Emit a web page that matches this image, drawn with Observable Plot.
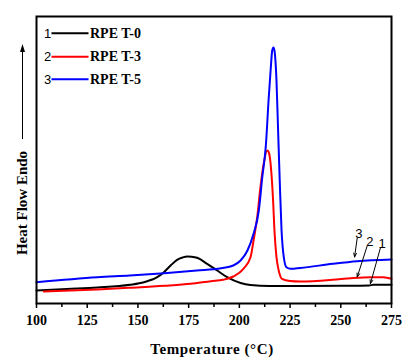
<!DOCTYPE html>
<html><head><meta charset="utf-8">
<script src="https://cdn.jsdelivr.net/npm/d3@7"></script>
<script src="https://cdn.jsdelivr.net/npm/@observablehq/plot@0.6"></script>
<style>body{margin:0;background:#fff}</style>
</head><body><div id="chart"></div>
<script>
// Series: temperature (°C) and heat flow (arbitrary units, endo up)
const seriesNames = ["RPE T-0", "RPE T-3", "RPE T-5"];
const seriesNums = ["1", "2", "3"];
const seriesColors = ["#000000", "#ff0000", "#0000ff"];

const t0 = [100,115,130,146,153,159.5,162.8,166.1,169.3,172,174.3,176.5,179.2,184.1,189.1,194,200.6,205.5,215,230,250,264,266,275];
const v0 = [13,14.5,16,18.7,21.3,26.3,31.3,38,43.7,46,47,46.8,45.7,39.7,33,26.3,20.5,18.5,17.5,17.5,17.7,18,18.7,18.7];

const t3 = [103.6,130,146,163,176,186,192,197,202,205.5,207,208.8,210.4,212,213.7,214.5,215.7,216.7,217.3,218.3,219.4,221,225,230,246,255,265,271,275];
const v3 = [12,14,15.7,17.7,19.7,22.3,23.7,27,34.7,46.3,63,86.3,116.3,139.7,153,151.3,133,100,73,46.3,33,24.7,22.5,22,23.7,25.3,26.3,26.3,24.7];

const t5 = [100,130,146,163,179,191,197,200.6,204,207,209.6,211.3,213,214.5,215.4,216.2,216.8,217.3,218.3,219.1,219.9,220.8,221.9,223.2,225.2,230,246,258,275];
const v5 = [21.3,26.3,28,30.3,33,35.3,38,43,53,69.7,93,126.3,156.3,206.3,233,253,256,253,223,173,123,73,46.3,36.3,34.7,35.5,39.7,42.3,44];

const xTicks = [100,125,150,175,200,225,250,275];
const xMinor = [112.5,137.5,162.5,187.5,212.5,237.5,262.5];

// Annotation labels (number) with arrow start and tip in data coordinates
const annNums = ["3", "2", "1"];
const annLabelT = [258.9, 264.3, 270.4];
const annLabelV = [69.7, 61.3, 59.7];
const annFromT = [258.1, 263.0, 269.6];
const annFromV = [65.5, 57.5, 56];
const annToT = [256.8, 258.1, 264.6];
const annToV = [46.5, 26.5, 19.8];

const rows = [];
[[t0,v0],[t3,v3],[t5,v5]].forEach(([ts,vs],i)=>ts.forEach((t,j)=>rows.push({t, v: vs[j], s: seriesNames[i]})));
const ann = annNums.map((n,i)=>({n, lt: annLabelT[i], lv: annLabelV[i], ft: annFromT[i], fv: annFromV[i], tt: annToT[i], tv: annToV[i]}));

const serif = "'Liberation Serif', 'Times New Roman', serif";
const sans = "'Liberation Sans', Arial, sans-serif";

const plot = Plot.plot({
  width: 413, height: 363,
  marginLeft: 36, marginRight: 22, marginTop: 16, marginBottom: 60,
  style: {fontFamily: serif, background: "#fff"},
  x: {domain: [100, 275]},
  y: {domain: [0, 287], axis: null},
  color: {domain: seriesNames, range: seriesColors},
  marks: [
    Plot.line(rows, {x: "t", y: "v", z: "s", stroke: "s", strokeWidth: 2, curve: "monotone-x"}),
    Plot.arrow(ann, {x1: "ft", y1: "fv", x2: "tt", y2: "tv", stroke: "black", strokeWidth: 1, headLength: 6, headAngle: 40}),
    Plot.text(ann, {x: "lt", y: "lv", text: "n", fontSize: 13, fontFamily: sans, fill: "black"}),
    Plot.axisX({ticks: xMinor, tickSize: 4, text: null, label: null, strokeWidth: 1.5}),
    Plot.axisX({ticks: xTicks, tickSize: 5, tickPadding: 7, fontSize: 14, fontWeight: "bold", fontFamily: serif, fill: "black", label: null, strokeWidth: 1.5, tickFormat: d => String(d)}),
    Plot.frame({stroke: "black", strokeWidth: 2})
  ]
});

const svg = d3.select(plot);
// Legend
const legY = [33.3, 56.7, 79.3];
seriesNames.forEach((name, i) => {
  const g = svg.append("g");
  g.append("text").attr("x", 47.5).attr("y", legY[i]).attr("text-anchor", "middle").attr("dominant-baseline", "central")
    .attr("font-family", sans).attr("font-size", 13).attr("fill", "black").text(seriesNums[i]);
  g.append("line").attr("x1", 51.5).attr("x2", 88.5).attr("y1", legY[i]).attr("y2", legY[i])
    .attr("stroke", seriesColors[i]).attr("stroke-width", 2);
  g.append("text").attr("x", 90).attr("y", legY[i]).attr("text-anchor", "start").attr("dominant-baseline", "central")
    .attr("font-family", serif).attr("font-weight", "bold").attr("font-size", 14).attr("fill", "black").text(name);
});
// X title
svg.append("text").attr("x", 212).attr("y", 349).attr("text-anchor", "middle").attr("dominant-baseline", "central")
  .attr("font-family", serif).attr("font-weight", "bold").attr("font-size", 15).attr("letter-spacing", "0.6px")
  .attr("fill", "black").text("Temperature (°C)");
// Y title with arrow
svg.append("text").attr("transform", "translate(22,203) rotate(-90)").attr("text-anchor", "middle").attr("dominant-baseline", "central")
  .attr("font-family", serif).attr("font-weight", "bold").attr("font-size", 15).attr("fill", "black").text("Heat Flow Endo");
svg.append("line").attr("x1", 22.5).attr("x2", 22.5).attr("y1", 139).attr("y2", 50).attr("stroke", "black").attr("stroke-width", 1);
svg.append("path").attr("d", "M22.5,44 L20,52 L25,52 Z").attr("fill", "black");

document.getElementById("chart").appendChild(plot);
</script>
</body></html>
